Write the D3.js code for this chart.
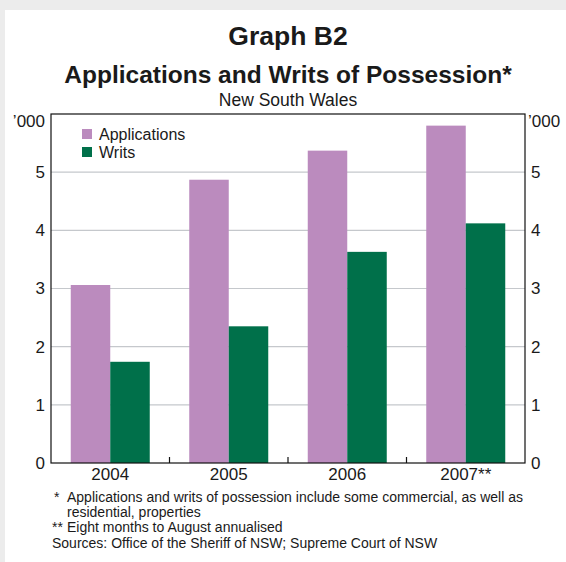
<!DOCTYPE html>
<html>
<head>
<meta charset="utf-8">
<script src="https://cdn.jsdelivr.net/npm/d3@7"></script>
<style>
  html, body { margin: 0; padding: 0; background: #ececec; }
  svg { display: block; font-family: "Liberation Sans", Arial, sans-serif; }
</style>
</head>
<body>
<svg id="chart" width="566" height="562"></svg>
<script>
// ---- data ----
const categories = ["2004", "2005", "2006", "2007**"];
const seriesNames = ["Applications", "Writs"];
const applications = [3.06, 4.87, 5.37, 5.80];
const writs = [1.74, 2.35, 3.63, 4.12];
const yTicks = [0, 1, 2, 3, 4, 5];
const unitLabel = "’000";
const titleText = "Graph B2";
const subtitleText = "Applications and Writs of Possession*";
const regionText = "New South Wales";
const footnoteMarks = ["*", "", "**", ""];
const footnoteTexts = [
  "Applications and writs of possession include some commercial, as well as",
  "residential, properties",
  "Eight months to August annualised",
  "Sources: Office of the Sheriff of NSW; Supreme Court of NSW"
];

const colors = {Applications: "#bb8bbe", Writs: "#00704a"};

const svg = d3.select("#chart");
const W = 566, H = 562;
const pL = 51, pR = 525, pT = 114, pB = 463;
const textColor = "#1a1a1a";

// white panel
svg.append("rect").attr("x", 5).attr("y", 10).attr("width", W - 5).attr("height", H - 10).attr("fill", "#ffffff");

const cx = (pL + pR) / 2;
svg.append("text").attr("x", cx).attr("y", 45).attr("text-anchor", "middle")
  .attr("font-size", 26.5).attr("font-weight", "bold").attr("fill", textColor).text(titleText);
svg.append("text").attr("x", cx).attr("y", 83).attr("text-anchor", "middle")
  .attr("font-size", 24.5).attr("font-weight", "bold").attr("fill", textColor).text(subtitleText);
svg.append("text").attr("x", cx).attr("y", 105.5).attr("text-anchor", "middle")
  .attr("font-size", 17.5).attr("fill", textColor).text(regionText);

// scales
const x0 = d3.scaleBand().domain(categories).range([pL, pR]).padding(0);
const bw = x0.bandwidth();
const x1 = d3.scaleBand().domain(seriesNames).range([bw / 6, bw * 5 / 6]).padding(0);
const y = d3.scaleLinear().domain([0, 6]).range([pB, pT]);

// gridlines
svg.append("g").selectAll("line").data(yTicks.filter(d => d > 0)).join("line")
  .attr("x1", pL).attr("x2", pR)
  .attr("y1", d => y(d)).attr("y2", d => y(d))
  .attr("stroke", "#c5c8cc").attr("stroke-width", 1.2);

// bars
const rows = categories.map((c, i) => ({cat: c, values: [
  {name: "Applications", v: applications[i]},
  {name: "Writs", v: writs[i]}
]}));
svg.append("g").selectAll("g").data(rows).join("g")
  .attr("transform", d => `translate(${x0(d.cat)},0)`)
  .selectAll("rect").data(d => d.values).join("rect")
  .attr("x", d => x1(d.name))
  .attr("width", x1.bandwidth())
  .attr("y", d => y(d.v))
  .attr("height", d => y(0) - y(d.v))
  .attr("fill", d => colors[d.name]);

// frame
svg.append("rect").attr("x", pL).attr("y", pT).attr("width", pR - pL).attr("height", pB - pT)
  .attr("fill", "none").attr("stroke", "#111").attr("stroke-width", 1.2);

// y axes (labels via d3 axes)
const fmt = d3.format("d");
const yAxisL = d3.axisLeft(y).tickValues(yTicks).tickFormat(fmt).tickSize(0).tickPadding(6);
const gL = svg.append("g").attr("transform", `translate(${pL},0)`).call(yAxisL);
const yAxisR = d3.axisRight(y).tickValues(yTicks).tickFormat(fmt).tickSize(0).tickPadding(6);
const gR = svg.append("g").attr("transform", `translate(${pR},0)`).call(yAxisR);
[gL, gR].forEach(g => {
  g.select(".domain").remove();
  g.selectAll("text").attr("font-size", 17).attr("fill", textColor)
    .attr("font-family", "\"Liberation Sans\", Arial, sans-serif");
});
svg.append("text").attr("x", pL - 6).attr("y", 127).attr("text-anchor", "end")
  .attr("font-size", 17).attr("fill", textColor).text(unitLabel);
svg.append("text").attr("x", pR + 3).attr("y", 127).attr("text-anchor", "start")
  .attr("font-size", 17).attr("fill", textColor).text(unitLabel);

// x axis
const xAxis = d3.axisBottom(x0).tickSize(0).tickPadding(5);
const gX = svg.append("g").attr("transform", `translate(0,${pB})`).call(xAxis);
gX.select(".domain").remove();
gX.selectAll("text").attr("font-size", 17).attr("fill", textColor)
  .attr("font-family", "\"Liberation Sans\", Arial, sans-serif");
// category separator ticks (inward)
svg.append("g").selectAll("line").data(categories.slice(1)).join("line")
  .attr("x1", d => x0(d)).attr("x2", d => x0(d))
  .attr("y1", pB).attr("y2", pB - 6)
  .attr("stroke", "#111").attr("stroke-width", 1.2);

// legend
const lg = svg.append("g");
seriesNames.forEach((s, i) => {
  lg.append("rect").attr("x", 82).attr("y", 129 + i * 18).attr("width", 10).attr("height", 10).attr("fill", colors[s]);
  lg.append("text").attr("x", 99).attr("y", 140 + i * 18).attr("font-size", 16).attr("fill", textColor).text(s);
});

// footnotes
const fn = svg.append("g").attr("font-size", 14).attr("fill", textColor);
const fy = [502, 517, 532, 548];
footnoteTexts.forEach((t, i) => {
  const m = footnoteMarks[i];
  if (m) fn.append("text").attr("x", m === "*" ? 54 : 52).attr("y", fy[i]).text(m);
  const tx = i === 3 ? 52 : 67;
  fn.append("text").attr("x", tx).attr("y", fy[i]).text(t);
});
</script>
</body>
</html>
